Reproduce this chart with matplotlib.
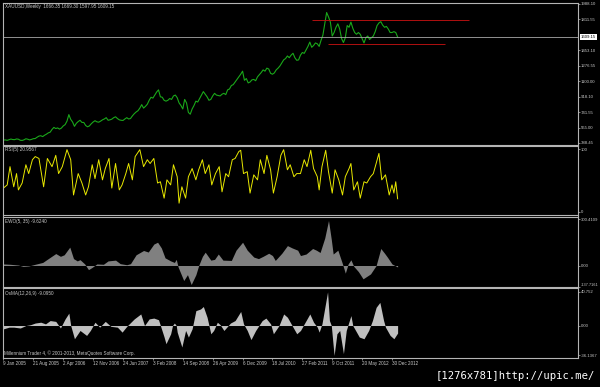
import numpy as np
import matplotlib
matplotlib.use("Agg")
import matplotlib.pyplot as plt

plt.rcParams['font.family'] = ['Liberation Sans', 'DejaVu Sans']

# weekly XAUUSD closes, one value every 2 weeks starting 9 Jan 2005
price_step = 2
price = [
    # 2005
    422, 424, 419, 426, 434, 428, 427, 435, 432, 420, 418, 425, 437,
    432, 424, 430, 438, 440, 455, 468, 472, 462, 478, 490, 505, 513,
    # 2006
    545, 568, 555, 562, 548, 560, 585, 600, 640, 715, 660, 630, 580,
    615, 635, 650, 625, 625, 590, 575, 585, 610, 630, 645, 632, 628,
    # 2007
    640, 655, 665, 680, 650, 655, 663, 680, 690, 670, 655, 650, 648,
    665, 680, 665, 670, 700, 725, 745, 760, 790, 830, 790, 810, 834,
    # 2008
    880, 915, 905, 940, 975, 1000, 920, 915, 880, 870, 880, 900, 890,
    930, 940, 910, 850, 820, 780, 890, 850, 740, 720, 780, 820, 870,
    # 2009
    860, 900, 940, 980, 950, 920, 880, 890, 930, 960, 940, 935, 930,
    950, 960, 945, 1000, 1010, 1050, 1060, 1090, 1120, 1150, 1180, 1215, 1110,
    # 2010
    1130, 1080, 1090, 1115, 1120, 1105, 1150, 1175, 1200, 1230, 1215, 1250, 1240,
    1190, 1180, 1195, 1230, 1250, 1275, 1310, 1345, 1360, 1390, 1370, 1400, 1421,
    # 2011
    1370, 1340, 1345, 1400, 1430, 1420, 1460, 1500, 1550, 1490, 1510, 1540, 1530,
    1500, 1570, 1630, 1760, 1890, 1840, 1780, 1620, 1660, 1720, 1760, 1700, 1590,
    # 2012
    1545, 1600, 1740, 1720, 1780, 1710, 1660, 1640, 1660, 1640, 1590, 1540, 1600,
    1620, 1580, 1600, 1620, 1670, 1740, 1770, 1785, 1745, 1720, 1730, 1700, 1660,
    # 2013
    1660, 1670, 1660, 1609.15,
]
last_price = 1609.15
price_ticks = [1988.10, 1811.55, 1453.10, 1276.55, 1100.00, 918.10, 741.55, 565.00, 388.45]
price_tick_labels = ['1988.10', '1811.55', '1453.10', '1276.55', '1100.00',
                     '918.10', '741.55', '565.00', '388.45']

# hand-drawn channel lines (week from, week to, price)
channel_start = [330, 348]
channel_end = [498, 473]
channel_level = [1803, 1525]

rsi_weeks = [0, 4, 7, 11, 14, 16, 20, 24, 27, 31,
             34, 38, 43, 47, 52, 56, 59, 63, 68, 72,
             75, 80, 84, 88, 91, 95, 98, 102, 106, 109,
             113, 116, 120, 124, 127, 131, 134, 138, 141, 146,
             150, 154, 157, 161, 165, 168, 172, 175, 179, 182,
             186, 188, 191, 195, 198, 202, 206, 209, 213, 216,
             220, 223, 227, 231, 234, 238, 241, 245, 248, 252,
             254, 257, 261, 264, 268, 272, 275, 279, 282, 286,
             289, 293, 297, 300, 304, 307, 311, 314, 318, 322,
             325, 329, 332, 336, 338, 341, 345, 348, 352, 355,
             359, 363, 366, 370, 372, 375, 379, 382, 386, 389,
             393, 396, 402, 405, 409, 413, 416, 418, 420, 422]
rsi = [38, 43, 72, 40, 61, 35, 46, 75, 61, 83,
       88, 85, 40, 85, 72, 90, 61, 72, 99, 83,
       27, 61, 46, 27, 40, 75, 53, 83, 51, 69,
       85, 38, 77, 35, 43, 61, 77, 51, 88, 99,
       72, 83, 77, 85, 46, 48, 22, 51, 43, 75,
       56, 14, 40, 22, 56, 69, 51, 67, 83, 61,
       75, 43, 61, 72, 32, 61, 56, 83, 85, 96,
       98, 61, 64, 30, 59, 51, 83, 61, 90, 67,
       30, 56, 90, 99, 67, 75, 56, 61, 61, 83,
       72, 98, 69, 56, 35, 72, 98, 64, 30, 67,
       51, 27, 56, 69, 77, 35, 48, 22, 48, 46,
       56, 61, 93, 51, 59, 27, 43, 30, 48, 20.9567]

ewo_weeks = [0, 7, 16, 21, 27, 34, 42, 48, 56, 61,
             65, 71, 75, 79, 82, 87, 91, 95, 100, 107,
             112, 120, 125, 132, 136, 142, 150, 155, 161, 165,
             169, 173, 179, 183, 185, 187, 193, 197, 201, 206,
             209, 213, 216, 222, 226, 230, 235, 244, 249, 256,
             261, 268, 273, 278, 284, 288, 291, 298, 304, 309,
             315, 318, 324, 331, 335, 339, 344, 348, 351, 353,
             358, 363, 366, 369, 372, 375, 380, 385, 393, 399,
             404, 408, 411, 416, 422]
ewo = [10, 8, 3, -6, -3, 8, 20, 45, 78, 60,
       70, 120, 45, 30, 38, 10, -27, -12, 10, 8,
       30, 35, 12, 5, 12, 70, 98, 88, 140, 152,
       115, 50, 30, 20, 40, -10, -98, -60, -124, -60,
       0, 60, 87, 35, 40, 75, 35, 33, 100, 152,
       100, 55, 45, 60, 80, 65, 33, 80, 130, 115,
       100, 65, 75, 111, 100, 85, 180, 294, 170, 75,
       100, 10, -50, 10, 37, -5, -40, -87, -55, 0,
       111, 80, 55, 10, -9.624]

osma_weeks = [0, 6, 11, 18, 24, 29, 34, 40, 45, 50,
              56, 61, 66, 70, 72, 76, 82, 89, 93, 98,
              103, 109, 115, 122, 127, 132, 140, 147, 151, 156,
              161, 166, 168, 172, 174, 179, 181, 183, 185, 186,
              191, 195, 198, 202, 206, 211, 214, 218, 222, 225,
              229, 232, 236, 243, 248, 254, 257, 261, 265, 270,
              277, 281, 286, 289, 295, 300, 304, 309, 314,
              318, 322, 328, 332, 336, 338, 341, 347, 349, 351,
              354, 357, 360, 364, 367, 372, 374, 377, 381, 386,
              391, 395, 399, 403, 407, 409, 414, 418, 422]
osma = [-4, -2, -2, -3, 0, 1, 3, 4, 2, 6,
        5, -3, 8, 15, 0, -16, -6, -12, -6, 4,
        -2, 5, -1, -2, -8, -1, 8, 14, 0, 8,
        9, 7, 0, -14, -22, -10, 0, 3, 0, -8,
        -26, -6, -14, -4, 18, 20, 23, 10, -10, -6,
        4, 1, -6, 3, 6, 17, 2, -6, -17, -6,
        6, 9, 2, -10, 0, 14, 10, 0, -10,
        -6, 2, 14, 4, -2, -8, 2, 40.752, 6, 0,
        -36.1367, -10, -6, -34, -6, 12, 0, -6, -14, -16,
        -6, 6, 22, 28, 6, -2, -12, -16, -9.095]

date_labels = ['9 Jan 2005', '21 Aug 2005', '2 Apr 2006', '12 Nov 2006', '24 Jun 2007',
               '3 Feb 2008', '14 Sep 2008', '26 Apr 2009', '6 Dec 2009', '18 Jul 2010',
               '27 Feb 2011', '9 Oct 2011', '20 May 2012', '30 Dec 2012']
date_weeks = np.arange(0, 417, 32)

W, H = 600, 387
BG = 'black'
FRAME = '#b4b4b4'
TXT = '#c8c8c8'
FS = 3.3
YFS = 3.1

fig = plt.figure(figsize=(W / 100, H / 100), dpi=100, facecolor=BG)


def panel(top, bottom):
    ax = fig.add_axes([3 / W, 1 - bottom / H, 575 / W, (bottom - top) / H])
    ax.set_facecolor(BG)
    for sp in ax.spines.values():
        sp.set_color(FRAME)
        sp.set_linewidth(0.8)
    ax.yaxis.tick_right()
    ax.tick_params(axis='y', direction='out', length=1.2, width=0.5, colors=FRAME,
                   labelcolor=TXT, labelsize=YFS, pad=1.0)
    ax.tick_params(axis='x', bottom=False, labelbottom=False)
    ax.set_xlim(-0.5, -0.5 + 575 / 0.934)
    return ax


def fig_text(x, y, s, **kw):
    kw.setdefault('fontsize', FS)
    kw.setdefault('color', TXT)
    fig.text(x / W, 1 - y / H, s, va='center', ha=kw.pop('ha', 'left'), **kw)


# main price panel
ax_p = panel(3, 145)
weeks_p = np.arange(len(price)) * price_step
ax_p.plot(weeks_p, price, color='#1aa81a', lw=0.8)
ax_p.axhline(last_price, color='#a8a8a8', lw=0.6)
ax_p.hlines(channel_level, channel_start, channel_end, color='#b01010', lw=0.7)
ax_p.set_ylim(365.4, 1999.6)
ax_p.set_yticks(price_ticks)
ax_p.set_yticklabels(price_tick_labels)
ax_p.annotate('%.2f' % last_price, xy=(1, last_price), xycoords=('axes fraction', 'data'),
              xytext=(2.2, 0), textcoords='offset points', va='center', ha='left',
              fontsize=YFS, color='black',
              bbox=dict(boxstyle='square,pad=0.15', fc='white', ec='none'))

# RSI
ax_r = panel(146, 215.5)
ax_r.plot(rsi_weeks, rsi, color='#e8e800', lw=0.7)
ax_r.set_ylim(-5.6, 104.8)
ax_r.set_yticks([100, 0])
ax_r.set_yticklabels(['100', '0'])

# EWO
ax_e = panel(216.5, 287)
ax_e.fill_between(ewo_weeks, 0, ewo, color='#808080', lw=0)
ax_e.set_ylim(-140.4, 320)
ax_e.set_yticks([300.4109, 0, -137.7161])
ax_e.set_yticklabels(['300.4109', '0.00', '-137.7161'])
low_lbl = ax_e.get_yticklabels()[2]
low_lbl.set_va('bottom')
low_lbl.set_fontsize(2.8)

# OsMA
ax_o = panel(288, 357.5)
ax_o.fill_between(osma_weeks, 0, osma, color='#c0c0c0', lw=0)
ax_o.set_ylim(-38.7, 45.4)
ax_o.set_yticks([40.752, 0, -36.1367])
ax_o.set_yticklabels(['40.752', '0.00', '-36.1367'])
ax_o.set_xticks(date_weeks)
ax_o.set_xticklabels(date_labels, ha='left')
ax_o.tick_params(axis='x', bottom=True, labelbottom=True, direction='out', length=1.5,
                 width=0.5, colors=FRAME, labelcolor=TXT, labelsize=FS, pad=1.2)

# captions
fig_text(5, 6.5, 'XAUUSD,Weekly  1666.35 1669.30 1597.95 1609.15')
fig_text(5, 150, 'RSI(5) 20.9567')
fig_text(5, 221.5, 'EWO(5, 35) -9.6240')
fig_text(5, 293, 'OsMA(12,26,9) -9.0950')
fig_text(4, 353.5, 'Millennium Trader 4, \u00a9 2001-2013, MetaQuotes Software Corp.')
fig_text(595, 376, '[1276x781]http://upic.me/', ha='right', fontsize=7.6,
         color='white', family='DejaVu Sans Mono')

fig.savefig('out.png', dpi=100, facecolor=BG)
